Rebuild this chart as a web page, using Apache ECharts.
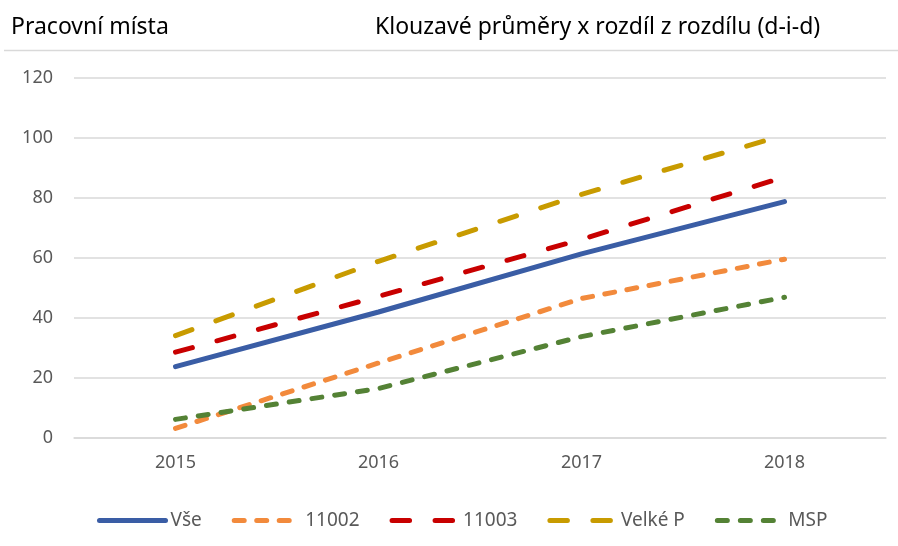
<!DOCTYPE html>
<html>
<head>
<meta charset="utf-8">
<script src="https://cdn.jsdelivr.net/npm/echarts@6/dist/echarts.min.js"></script>
<style>
  html, body { margin: 0; padding: 0; background: #fff; }
  #chart { width: 898px; height: 546px; }
</style>
</head>
<body>
<div id="chart"></div>
<script>
// data
const years = ['2015', '2016', '2017', '2018'];
const vse = [23.8, 42, 61.4, 78.8];
const s11002 = [3.2, 25, 46.5, 59.6];
const s11003 = [28.6, 47.2, 66.2, 87];
const velkeP = [34.1, 58.9, 81.2, 101];
const msp = [6.2, 16.5, 33.8, 46.9];

const font = '"Noto Sans", "Open Sans", sans-serif';

let chart = echarts.init(document.getElementById('chart'));

function lineSeries (name, data, color, dash) {
  return {
    name: name,
    type: 'line',
    data: data,
    symbol: 'none',
    lineStyle: {
      color: color,
      width: 5,
      type: dash,
      cap: 'round'
    },
    itemStyle: { color: color },
    z: 3
  };
}

let option = {
  animation: false,
  title: [
    {
      text: 'Pracovní místa',
      left: 6,
      top: 11,
      textStyle: { fontFamily: font, fontSize: 23, fontWeight: 'normal', color: '#000' }
    },
    {
      text: 'Klouzavé průměry x rozdíl z rozdílu (d-i-d)',
      left: 370,
      top: 11,
      textStyle: { fontFamily: font, fontSize: 23, fontWeight: 'normal', color: '#000' }
    }
  ],
  graphic: [
    {
      type: 'line',
      shape: { x1: 4, y1: 50.5, x2: 898, y2: 50.5 },
      style: { stroke: '#d9d9d9', lineWidth: 1.5 }
    }
  ],
  legend: {
    left: 92,
    top: 506,
    itemWidth: 66,
    itemHeight: 18,
    itemGap: 30,
    data: ['Vše', '11002', '11003', 'Velké P', 'MSP'],
    itemStyle: { opacity: 0 },
    lineStyle: { width: 5, cap: 'round' },
    textStyle: { fontFamily: font, fontSize: 19, color: '#595959' }
  },
  grid: {
    left: 74,
    right: 12,
    top: 78,
    bottom: 108
  },
  xAxis: {
    type: 'category',
    data: years,
    boundaryGap: true,
    axisLine: { lineStyle: { color: '#d9d9d9', width: 1.5 } },
    axisTick: { show: false },
    axisLabel: { fontFamily: font, fontSize: 18, color: '#595959', margin: 16 }
  },
  yAxis: {
    type: 'value',
    min: 0,
    max: 120,
    interval: 20,
    axisLine: { show: false },
    axisTick: { show: false },
    splitLine: { lineStyle: { color: '#d9d9d9', width: 1.5 } },
    axisLabel: { fontFamily: font, fontSize: 18, color: '#595959', margin: 21 }
  },
  series: [
    lineSeries('Vše', vse, '#3a5da5', 'solid'),
    lineSeries('11002', s11002, '#f28a3c', [10, 12.5]),
    lineSeries('11003', s11003, '#c80000', [17.5, 25.5]),
    lineSeries('Velké P', velkeP, '#c89b00', [17.5, 25.5]),
    lineSeries('MSP', msp, '#548235', [10, 13])
  ]
};

chart.setOption(option);
window.onresize = function () {
  chart.resize();
};
</script>
</body>
</html>
